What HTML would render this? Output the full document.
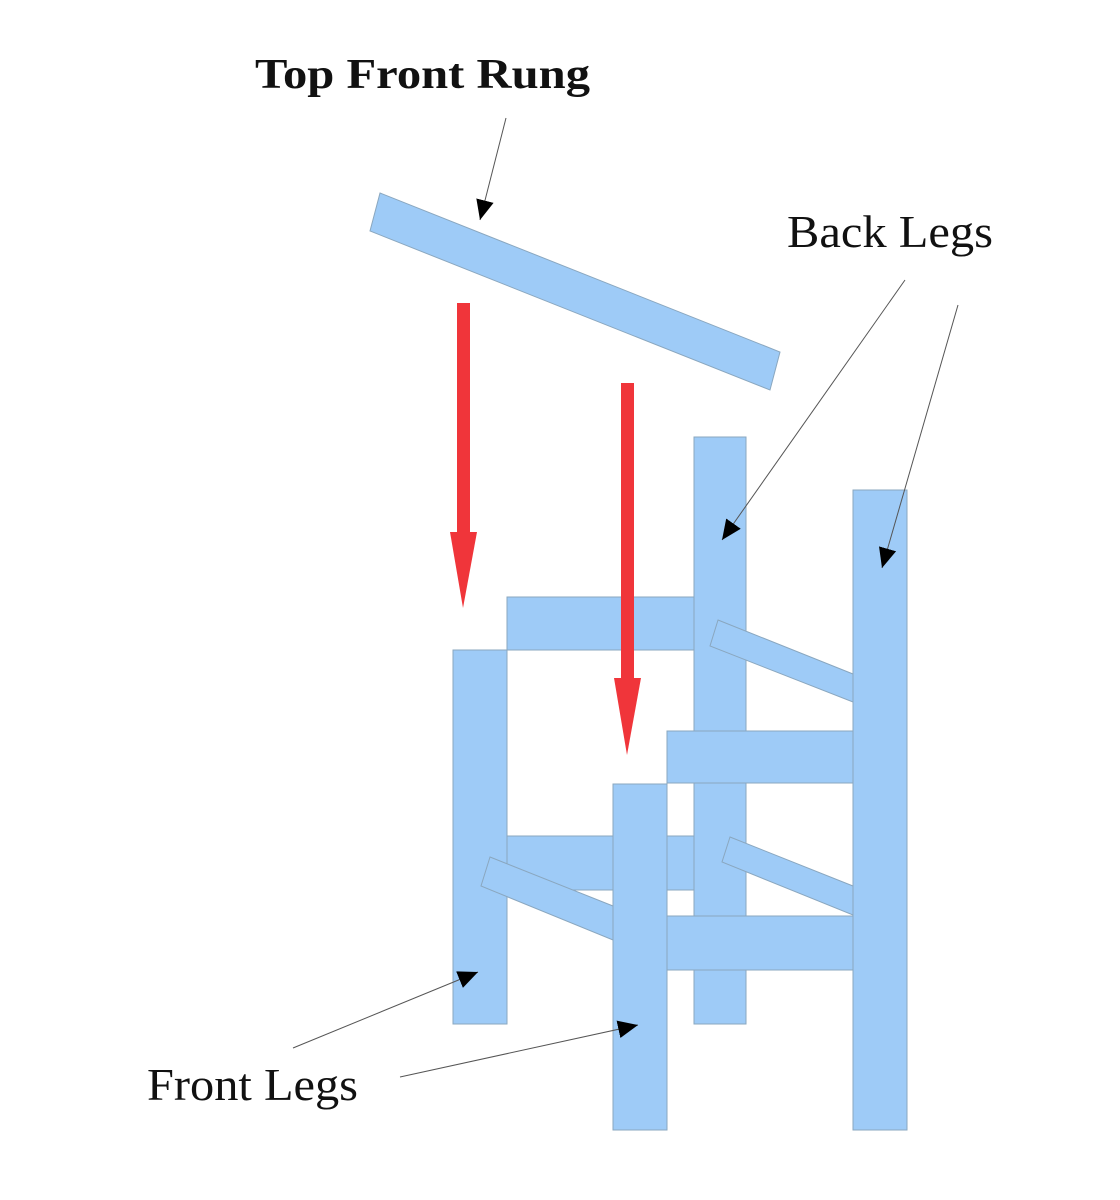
<!DOCTYPE html>
<html><head><meta charset="utf-8"><style>
html,body{margin:0;padding:0;background:#fff;}
svg{display:block}
</style></head><body>
<svg width="1120" height="1200" viewBox="0 0 1120 1200" xmlns="http://www.w3.org/2000/svg">
<defs>
<marker id="ah" markerWidth="20" markerHeight="20" refX="18" refY="8" orient="auto" markerUnits="userSpaceOnUse" viewBox="0 0 18 16">
<path d="M0,0 L18,8 L0,16 z" fill="#000"/>
</marker>
</defs>
<g fill="#9ecbf7" stroke="#8aa7bf" stroke-width="1">
<polygon points="380,193 780,352 770,390 370,231"/>
<rect x="694" y="437" width="52" height="587"/>
<rect x="507" y="597" width="187" height="53"/>
<rect x="507" y="836" width="187" height="54"/>
<polygon points="718,620 853,674 853,702 710,646"/>
<polygon points="730,837 853,886 853,915 722,862"/>
<rect x="667" y="731" width="186" height="52"/>
<rect x="667" y="916" width="186" height="54"/>
<rect x="853" y="490" width="54" height="640"/>
<rect x="453" y="650" width="54" height="374"/>
<polygon points="490,857 613,906 613,940 481,886"/>
<rect x="613" y="784" width="54" height="346"/>
</g>
<g fill="#f0353a">
<rect x="457" y="303" width="13" height="235"/>
<polygon points="450,532 477,532 463,608"/>
<rect x="621" y="383" width="13" height="300"/>
<polygon points="614,678 641,678 627,755"/>
</g>
<g stroke="#555" stroke-width="1" fill="none" marker-end="url(#ah)">
<line x1="506" y1="118" x2="480" y2="220"/>
<line x1="905" y1="280" x2="722" y2="540"/>
<line x1="958" y1="305" x2="882" y2="568"/>
<line x1="293" y1="1048" x2="478" y2="972"/>
<line x1="400" y1="1077" x2="638" y2="1025"/>
</g>
<g font-family="'Liberation Serif',serif" fill="#111">
<text x="255" y="88" font-size="42" font-weight="bold" textLength="335" lengthAdjust="spacingAndGlyphs">Top Front Rung</text>
<text x="787" y="247" font-size="46" textLength="206" lengthAdjust="spacingAndGlyphs">Back Legs</text>
<text x="147" y="1100" font-size="46" textLength="211" lengthAdjust="spacingAndGlyphs">Front Legs</text>
</g>
</svg>
</body></html>
